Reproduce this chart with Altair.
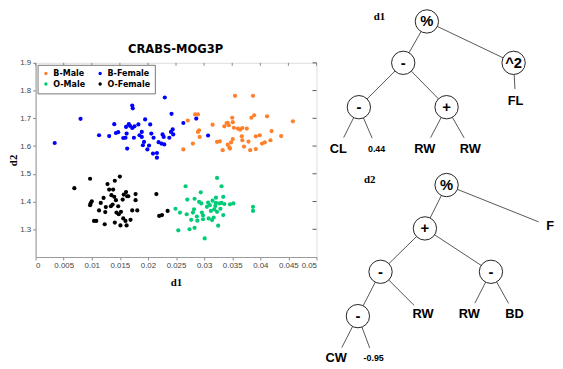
import altair as alt
import pandas as pd

# ---------------- scatter data ----------------
groups = ["B-Male", "O-Male", "B-Female", "O-Female"]
colors = ["#ff7f2a", "#00cc77", "#0000ff", "#000000"]

bm_d1 = [0.0263,0.0271,0.0280,0.0284,0.0289,0.0289,0.0291,0.0292,0.0315,0.0323,0.0328,0.0333,0.0336,0.0340,0.0342,0.0342,0.0344,0.0345,0.0346,0.0348,0.0350,0.0351,0.0351,0.0353,0.0355,0.0360,0.0364,0.0367,0.0368,0.0368,0.0371,0.0376,0.0379,0.0382,0.0384,0.0387,0.0389,0.0392,0.0392,0.0399,0.0403,0.0408,0.0412,0.0418,0.0420,0.0437,0.0458]
bm_d2 = [1.588,1.692,1.609,1.714,1.714,1.651,1.657,1.633,1.677,1.615,1.617,1.585,1.671,1.683,1.684,1.605,1.675,1.595,1.591,1.613,1.702,1.686,1.625,1.666,1.781,1.663,1.659,1.635,1.621,1.665,1.598,1.663,1.616,1.585,1.702,1.781,1.711,1.635,1.589,1.639,1.609,1.613,1.707,1.621,1.654,1.636,1.689]

bf_d1 = [0.0034,0.0080,0.0113,0.0131,0.0140,0.0143,0.0147,0.0156,0.0160,0.0161,0.0162,0.0163,0.0166,0.0168,0.0172,0.0173,0.0175,0.0176,0.0183,0.0185,0.0189,0.0189,0.0191,0.0193,0.0195,0.0199,0.0202,0.0204,0.0210,0.0209,0.0216,0.0216,0.0219,0.0224,0.0226,0.0228,0.0229,0.0230,0.0238,0.0241,0.0242,0.0244,0.0245,0.0263,0.0286,0.0307,0.0206,0.0172]
bf_d2 = [1.611,1.698,1.639,1.636,1.679,1.647,1.650,1.629,1.630,1.669,1.645,1.591,1.679,1.673,1.746,1.736,1.630,1.671,1.678,1.639,1.651,1.633,1.603,1.615,1.696,1.588,1.602,1.678,1.630,1.573,1.575,1.558,1.614,1.609,1.642,1.633,1.606,1.775,1.630,1.651,1.716,1.660,1.642,1.683,1.699,1.638,1.645,1.665]

om_d1 = [0.0249,0.0254,0.0257,0.0267,0.0269,0.0270,0.0274,0.0277,0.0280,0.0282,0.0283,0.0283,0.0287,0.0288,0.0291,0.0294,0.0295,0.0296,0.0298,0.0298,0.0301,0.0305,0.0307,0.0308,0.0310,0.0312,0.0314,0.0315,0.0317,0.0318,0.0320,0.0321,0.0321,0.0323,0.0323,0.0325,0.0327,0.0329,0.0331,0.0331,0.0334,0.0334,0.0336,0.0346,0.0352,0.0387,0.0387]
om_d2 = [1.374,1.296,1.360,1.455,1.354,1.407,1.300,1.334,1.360,1.372,1.305,1.410,1.346,1.331,1.399,1.433,1.393,1.360,1.350,1.336,1.267,1.381,1.396,1.339,1.387,1.366,1.333,1.403,1.342,1.372,1.384,1.414,1.395,1.485,1.363,1.313,1.393,1.374,1.455,1.395,1.417,1.351,1.391,1.390,1.393,1.381,1.366]

of_d1 = [0.0069,0.0097,0.0097,0.0098,0.0100,0.0104,0.0108,0.0113,0.0116,0.0121,0.0123,0.0124,0.0125,0.0128,0.0131,0.0134,0.0135,0.0137,0.0138,0.0140,0.0141,0.0141,0.0143,0.0144,0.0147,0.0148,0.0150,0.0151,0.0152,0.0155,0.0156,0.0157,0.0160,0.0161,0.0162,0.0163,0.0165,0.0169,0.0172,0.0178,0.0178,0.0181,0.0215,0.0220,0.0225,0.0235]
of_d2 = [1.448,1.482,1.387,1.393,1.401,1.330,1.330,1.368,1.395,1.413,1.318,1.362,1.380,1.463,1.443,1.383,1.423,1.389,1.443,1.417,1.475,1.324,1.405,1.360,1.383,1.354,1.490,1.314,1.363,1.407,1.339,1.425,1.330,1.434,1.314,1.419,1.419,1.334,1.368,1.427,1.405,1.368,1.427,1.348,1.351,1.366]

x_ticks = [0, 0.005, 0.01, 0.015, 0.02, 0.025, 0.03, 0.035, 0.04, 0.045, 0.05]
y_ticks = [1.3, 1.4, 1.5, 1.6, 1.7, 1.8, 1.9]

# ---------------- tree data (layout units) ----------------
tree_label = ["%", "-", "^2", "-", "+", "FL", "CL", "0.44", "RW", "RW",
              "%", "+", "F", "-", "-", "-", "RW", "RW", "BD", "CW", "-0.95"]
tree_kind = ["op", "op", "op", "op", "op", "leaf", "leaf", "num", "leaf", "leaf",
             "op", "op", "leaf", "op", "op", "op", "leaf", "leaf", "leaf", "leaf", "num"]
tree_x = [433, 409, 521, 364, 453, 523, 343, 382, 431, 477,
          453, 431, 558, 386, 498, 363, 429, 476, 522, 341, 379]
tree_y = [19, 61, 61, 106, 106, 100, 148, 148, 148, 148,
          185, 229, 227, 273, 273, 318, 316, 316, 316, 361, 361]
edge_from = [0, 0, 1, 1, 2, 3, 3, 4, 4, 10, 10, 11, 11, 13, 13, 14, 14, 15, 15]
edge_to = [1, 2, 3, 4, 5, 6, 7, 8, 9, 11, 12, 13, 14, 15, 16, 17, 18, 19, 20]
tree_names = ["d1", "d2"]
tree_name_x = [385, 375]
tree_name_y = [15, 180]

chart_title = ["CRABS-MOG3P"]
title_x = [178]
title_y = [47]

# ---------------- build tables ----------------
rows = []
for g, xs, ys in [("B-Male", bm_d1, bm_d2), ("B-Female", bf_d1, bf_d2),
                  ("O-Male", om_d1, om_d2), ("O-Female", of_d1, of_d2)]:
    for a, b in zip(xs, ys):
        rows.append({"d1": a, "d2": b, "group": g})
df = pd.DataFrame(rows)

nodes = pd.DataFrame({"x": tree_x, "y": tree_y, "label": tree_label, "kind": tree_kind})
edges = []
for i, j in zip(edge_from, edge_to):
    x1, y1, x2, y2 = tree_x[i], tree_y[i], tree_x[j], tree_y[j]
    if tree_kind[j] != "op":
        dx, dy = x2 - x1, y2 - y1
        L = (dx * dx + dy * dy) ** 0.5
        s = 12.5 if tree_kind[j] == "leaf" else 11.5
        x2, y2 = x2 - dx * s / L, y2 - dy * s / L
    edges.append({"x": x1, "y": y1, "x2": x2, "y2": y2})
edges = pd.DataFrame(edges)
names = pd.DataFrame({"x": tree_name_x, "y": tree_name_y, "label": tree_names})
titles = pd.DataFrame({"x": title_x, "y": title_y, "label": chart_title})

W, H = 285, 197
PAD_L, PAD_T = 28, 53
NARROW = "'Liberation Sans Narrow', 'Arial Narrow', 'DejaVu Sans Condensed', sans-serif"

xsc = alt.Scale(domain=[0, 0.05], nice=False, zero=False)
ysc = alt.Scale(domain=[1.2, 1.9], nice=False, zero=False)

axis_common = dict(labelFont="Liberation Sans", labelFontSize=8, labelColor="#444",
                   tickColor="#888", domainColor="#999", grid=False, tickSize=3,
                   labelOverlap=False, labelPadding=2,
                   titleFont="Liberation Serif", titleFontSize=11, titleFontWeight="bold",
                   titleColor="#000")
x_axis = alt.Axis(values=x_ticks, format="~g", title="d1", titlePadding=7, **axis_common)
y_axis = alt.Axis(values=y_ticks, format=".1f", title="d2", titlePadding=1, **axis_common)

points = alt.Chart(df).mark_circle(size=18, opacity=1).encode(
    x=alt.X("d1:Q", scale=xsc, axis=x_axis),
    y=alt.Y("d2:Q", scale=ysc, axis=y_axis),
    color=alt.Color("group:N", scale=alt.Scale(domain=groups, range=colors),
                    legend=alt.Legend(title=None, orient="top-left", offset=2, columns=2,
                                      fillColor="white", strokeColor="#777", padding=4,
                                      symbolType="circle", symbolSize=12,
                                      labelFont=NARROW, labelFontWeight="bold",
                                      labelFontSize=9, rowPadding=1, columnPadding=10,
                                      labelOffset=3, symbolOffset=0)),
)

top_ticks = alt.Chart(pd.DataFrame({"d1": x_ticks})).mark_rule(color="#888").encode(
    x=alt.X("d1:Q", scale=xsc, axis=x_axis), y=alt.value(0), y2=alt.value(3))
right_ticks = alt.Chart(pd.DataFrame({"d2": y_ticks})).mark_rule(color="#555").encode(
    y=alt.Y("d2:Q", scale=ysc, axis=y_axis), x=alt.value(W), x2=alt.value(W - 4))

scatter = alt.layer(points, top_ticks, right_ticks)

txs = alt.Scale(domain=[0, 563], range=[-36, 527], nice=False, zero=False)
tys = alt.Scale(domain=[0, 369], range=[-PAD_T - 8, 369 - PAD_T - 8], nice=False, zero=False)

tx = lambda f: alt.X(f, type="quantitative", scale=txs, axis=None)
ty = lambda f: alt.Y(f, type="quantitative", scale=tys, axis=None)

edge_layer = alt.Chart(edges).mark_rule(color="#555", strokeWidth=1).encode(
    x=tx("x"), y=ty("y"), x2="x2", y2="y2")
circ_layer = alt.Chart(nodes).transform_filter("datum.kind == 'op'").mark_circle(
    size=560, fill="white", stroke="#222", strokeWidth=1, opacity=1).encode(
    x=tx("x"), y=ty("y"))
op_text = alt.Chart(nodes).transform_filter("datum.kind == 'op'").mark_text(
    font="Liberation Sans", fontWeight="bold", fontSize=15, baseline="middle",
    align="center", color="#000").encode(x=tx("x"), y=ty("y"), text="label:N")
leaf_text = alt.Chart(nodes).transform_filter("datum.kind == 'leaf'").mark_text(
    font="Liberation Sans", fontWeight="bold", fontSize=13, baseline="middle",
    align="center", color="#000").encode(x=tx("x"), y=ty("y"), text="label:N")
num_text = alt.Chart(nodes).transform_filter("datum.kind == 'num'").mark_text(
    font="Liberation Sans", fontWeight="bold", fontSize=9, baseline="middle",
    align="center", color="#000").encode(x=tx("x"), y=ty("y"), text="label:N")
name_text = alt.Chart(names).mark_text(
    font="Liberation Serif", fontWeight="bold", fontSize=11, baseline="middle",
    align="center", color="#000").encode(x=tx("x"), y=ty("y"), text="label:N")
title_text = alt.Chart(titles).mark_text(
    font=NARROW, fontWeight="bold", fontSize=13, baseline="middle",
    align="center", color="#000").encode(x=tx("x"), y=ty("y"), text="label:N")

tree = alt.layer(edge_layer, circ_layer, op_text, leaf_text, num_text, name_text, title_text)

chart = alt.layer(scatter, tree).resolve_scale(
    x="independent", y="independent", color="independent"
).properties(
    width=W, height=H,
    autosize=alt.AutoSizeParams(type="none"),
    padding={"left": PAD_L, "top": PAD_T, "right": 555 - PAD_L - W, "bottom": 361 - PAD_T - H},
).configure_view(stroke="#999", strokeWidth=1.2
).configure_axis(labelOverlap=False
).configure(background="white")

chart.save("out.html", embed_options={"renderer": "svg", "actions": False})
